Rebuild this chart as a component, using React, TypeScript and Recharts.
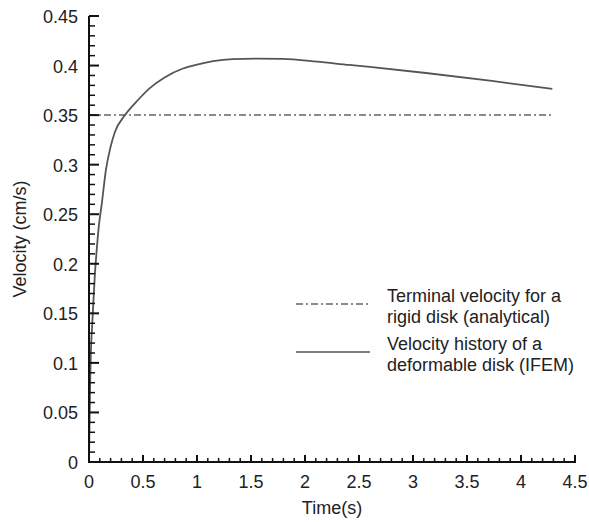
import React from "react";
import { Legend, Line, LineChart, XAxis, YAxis } from "recharts";

const font = '"Liberation Sans", Arial, sans-serif';

// velocity history of the deformable disk (IFEM)
const time = [0, 0.005, 0.01, 0.017, 0.028, 0.04, 0.055, 0.07, 0.09, 0.12, 0.157, 0.2, 0.24, 0.333, 0.46, 0.56, 0.7, 0.87, 1.0, 1.15, 1.33, 1.55, 1.79, 2.11, 2.41, 2.6, 3.12, 3.73, 4.29];
const velocity = [0, 0.04, 0.075, 0.11, 0.135, 0.16, 0.19, 0.212, 0.237, 0.262, 0.295, 0.318, 0.333, 0.35, 0.366, 0.377, 0.388, 0.397, 0.401, 0.4045, 0.4065, 0.407, 0.4067, 0.404, 0.4006, 0.3986, 0.3925, 0.3845, 0.3764];

// terminal velocity for a rigid disk (analytical)
const terminalTime = [0, 4.3];
const terminalVelocity = [0.35, 0.35];

const xMajor = [0, 0.5, 1, 1.5, 2, 2.5, 3, 3.5, 4, 4.5];
const yMajor = [0, 0.05, 0.1, 0.15, 0.2, 0.25, 0.3, 0.35, 0.4, 0.45];

const ifem = time.map((t, i) => ({ t, v: velocity[i] }));
const terminal = terminalTime.map((t, i) => ({ t, v: terminalVelocity[i] }));

// 4 minor ticks between each pair of labelled ticks
function withMinor(major: number[]) {
  const out: number[] = [];
  major.forEach((m, i) => {
    out.push(m);
    if (i < major.length - 1) {
      const step = (major[i + 1] - m) / 5;
      for (let k = 1; k < 5; k++) out.push(+(m + k * step).toFixed(4));
    }
  });
  return out;
}
const xTicks = withMinor(xMajor);
const yTicks = withMinor(yMajor);
const isMajor = (v: number, list: number[]) => list.some((m) => Math.abs(m - v) < 1e-6);
const fmt = (v: number) => String(+v.toFixed(2));

function XTick({ x, y, payload }: any) {
  const major = isMajor(payload.value, xMajor);
  return (
    <g>
      <line x1={x} x2={x} y1={y + (major ? 1 : 0)} y2={y - (major ? 7 : 4)} stroke="#111" strokeWidth={major ? 2 : 1.5} />
      {major && (
        <text x={x} y={y + 26} textAnchor="middle" fontSize={18} fontFamily={font} fill="#222">
          {fmt(payload.value)}
        </text>
      )}
    </g>
  );
}

function YTick({ x, y, payload }: any) {
  const major = isMajor(payload.value, yMajor);
  return (
    <g>
      <line x1={x} x2={x + (major ? 10 : 6)} y1={y} y2={y} stroke="#111" strokeWidth={major ? 2 : 1.5} />
      {major && (
        <text x={x - 11} y={y + 7} textAnchor="end" fontSize={18} fontFamily={font} fill="#222">
          {fmt(payload.value)}
        </text>
      )}
    </g>
  );
}

function LegendBox() {
  const txt = { fontSize: 18, fontFamily: font, fill: "#222" };
  return (
    <svg width={300} height={110}>
      <line x1={6} x2={80} y1={24} y2={24} stroke="#666" strokeWidth={1.5} strokeDasharray="7 3 2 3" />
      <text x={97} y={22} {...txt}>Terminal velocity for a</text>
      <text x={97} y={43} {...txt}>rigid disk (analytical)</text>
      <line x1={6} x2={80} y1={72} y2={72} stroke="#555" strokeWidth={1.5} />
      <text x={97} y={70} {...txt}>Velocity history of a</text>
      <text x={97} y={91} {...txt}>deformable disk (IFEM)</text>
    </svg>
  );
}

export default function App() {
  return (
    <div style={{ position: "absolute", left: 0, top: 0, background: "#fff" }}>
      <LineChart width={589} height={522} margin={{ left: 0, right: 14, top: 16, bottom: 0 }}>
        <XAxis
          type="number"
          dataKey="t"
          domain={[0, 4.5]}
          ticks={xTicks}
          interval={0}
          height={60}
          tickSize={0}
          tickMargin={0}
          tickLine={false}
          axisLine={{ stroke: "#111", strokeWidth: 2 }}
          tick={<XTick />}
          label={{ value: "Time(s)", position: "insideBottom", offset: 8, style: { fontSize: 18, fontFamily: font, fill: "#222" } }}
        />
        <YAxis
          type="number"
          dataKey="v"
          domain={[0, 0.45]}
          ticks={yTicks}
          interval={0}
          width={89}
          tickSize={0}
          tickMargin={0}
          tickLine={false}
          axisLine={{ stroke: "#111", strokeWidth: 2 }}
          tick={<YTick />}
          label={{ value: "Velocity (cm/s)", angle: -90, position: "insideLeft", offset: 20, style: { textAnchor: "middle", fontSize: 18, fontFamily: font, fill: "#222" } }}
        />
        <Legend
          layout="horizontal"
          verticalAlign="middle"
          content={() => <LegendBox />}
          wrapperStyle={{ position: "absolute", left: 290, top: 280, width: 300, height: 110 }}
        />
        <Line data={terminal} dataKey="v" type="linear" stroke="#666" strokeWidth={1.5} strokeDasharray="7 3 2 3" dot={false} isAnimationActive={false} />
        <Line data={ifem} dataKey="v" type="monotone" stroke="#555" strokeWidth={1.8} dot={false} isAnimationActive={false} />
      </LineChart>
    </div>
  );
}
